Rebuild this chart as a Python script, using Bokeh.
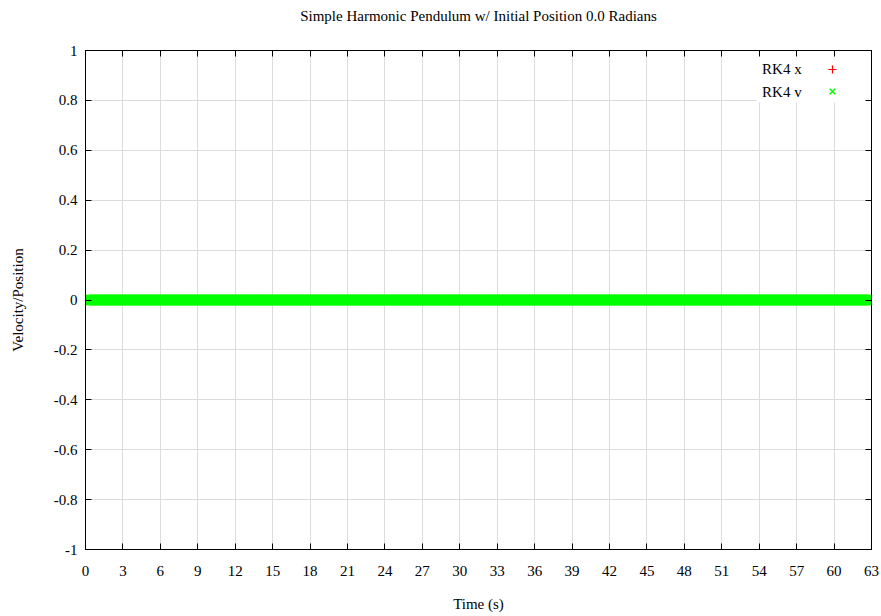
import numpy as np
from bokeh.plotting import figure
from bokeh.models import (Range1d, FixedTicker, LinearAxis, Legend, LegendItem,
                          BoxAnnotation, Label)
from bokeh.embed import file_html
from bokeh.resources import INLINE

# ---- data (both series stay at 0 over the whole run) ----
time_s = np.round(np.arange(0.0, 63.0 + 1e-9, 0.1), 2)   # RK4 time samples, 0 .. 63 s
rk4_x = np.zeros(len(time_s))                              # position (rad)
rk4_v = np.zeros(len(time_s))                              # velocity (rad/s)

xticks = list(range(0, 64, 3))
yticks = [-1.0, -0.8, -0.6, -0.4, -0.2, 0.0, 0.2, 0.4, 0.6, 0.8, 1.0]
ytick_labels = ["-1", "-0.8", "-0.6", "-0.4", "-0.2", "0", "0.2", "0.4", "0.6", "0.8", "1"]

title_text = "Simple Harmonic Pendulum w/ Initial Position 0.0 Radians"
series_names = ["RK4 x", "RK4 v"]

FONT = "Liberation Serif"
FS = "15px"

p = figure(width=881, height=616, output_backend="svg", toolbar_location=None,
           x_range=Range1d(0, 63), y_range=Range1d(-1, 1),
           min_border_left=85, min_border_right=10, min_border_top=50, min_border_bottom=67)

p.outline_line_color = "black"
p.outline_line_width = 1
p.background_fill_color = "white"
p.border_fill_color = "white"

# axes
xa = p.xaxis[0]
ya = p.yaxis[0]
xa.ticker = FixedTicker(ticks=xticks)
ya.ticker = FixedTicker(ticks=yticks)
ya.major_label_overrides = {t: s for t, s in zip(yticks, ytick_labels)}
xa.axis_label = "Time (s)"
ya.axis_label = "Velocity/Position"
for ax in (xa, ya):
    ax.major_label_text_font = FONT
    ax.major_label_text_font_size = FS
    ax.major_label_text_color = "black"
    ax.axis_label_text_font = FONT
    ax.axis_label_text_font_size = FS
    ax.axis_label_text_font_style = "normal"
    ax.axis_label_text_color = "black"
    ax.major_tick_in = 6
    ax.major_tick_out = 0
    ax.minor_tick_line_color = None
    ax.axis_line_color = "black"
    ax.major_tick_line_color = "black"
xa.major_label_standoff = 16
xa.axis_label_standoff = 17
ya.major_label_standoff = 8
ya.axis_label_standoff = 25

# mirror ticks on top (carrying the chart title as its label) and right
top = LinearAxis(ticker=FixedTicker(ticks=xticks),
                 major_label_overrides={t: "" for t in xticks},
                 major_label_text_font_size="1px",
                 major_label_standoff=0, major_tick_in=6, major_tick_out=0,
                 minor_tick_line_color=None, axis_line_color="black", major_tick_line_color="black",
                 axis_label=title_text, axis_label_text_font=FONT, axis_label_text_font_size=FS,
                 axis_label_text_font_style="normal", axis_label_text_color="black",
                 axis_label_standoff=27)
right = LinearAxis(ticker=FixedTicker(ticks=yticks),
                   major_label_overrides={t: "" for t in yticks},
                   major_label_text_font_size="1px",
                   major_label_standoff=0, major_tick_in=6, major_tick_out=0,
                   minor_tick_line_color=None, axis_line_color="black", major_tick_line_color="black")
p.add_layout(top, "above")
p.add_layout(right, "right")

# grid
for g in (p.xgrid[0], p.ygrid[0]):
    g.grid_line_color = "#dcdcdc"
    g.grid_line_width = 1
p.xgrid[0].ticker = FixedTicker(ticks=xticks)
p.ygrid[0].ticker = FixedTicker(ticks=yticks)

# data
r_x = p.scatter(time_s, rk4_x, marker="cross", size=10, line_color="#ff0000", line_width=1.2)
r_v = p.scatter(time_s, rk4_v, marker="x", size=15, line_color="#00ff00", line_width=1.5)

# legend background (gnuplot style: text then sample)
p.add_layout(BoxAnnotation(left=53.8, right=63, bottom=0.792, top=1.0,
                           fill_color="white", fill_alpha=1.0, line_color=None,
                           level="underlay"))
for name, yy in zip(series_names, [0.924, 0.833]):
    p.add_layout(Label(x=57.4, y=yy, text=name, text_align="right", text_baseline="middle",
                       text_font=FONT, text_font_size=FS, text_color="black"))

legend = Legend(items=[LegendItem(label=" ", renderers=[r_x]),
                       LegendItem(label=" ", renderers=[r_v])],
                location=(737, 447), glyph_width=20, glyph_height=22, spacing=0,
                padding=0, margin=0, label_width=0, label_standoff=0,
                label_text_font_size="1px", border_line_color=None,
                background_fill_alpha=0)
p.add_layout(legend)

open("out.html", "w").write(file_html(p, INLINE))
